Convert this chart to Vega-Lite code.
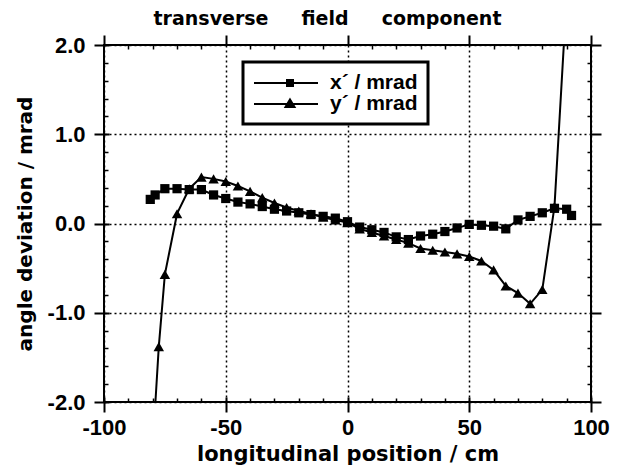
{
  "$schema": "https://vega.github.io/schema/vega-lite/v6.json",
  "width": 487,
  "height": 357,
  "autosize": {"type": "none"},
  "padding": {"left": 104, "top": 45, "right": 31, "bottom": 65},
  "background": "white",
  "config": {
    "view": {"stroke": "black", "strokeWidth": 2},
    "font": "Liberation Sans",
    "axis": {"domain": true, "domainOpacity": 0, "tickColor": "black", "labelColor": "black", "titleColor": "black", "labelFont": "Liberation Sans", "titleFont": "DejaVu Sans", "labelFlush": false, "labelOverlap": false}
  },
  "title": {"text": "transverse\u00a0\u00a0\u00a0\u00a0\u00a0field\u00a0\u00a0\u00a0\u00a0\u00a0component", "font": "DejaVu Sans", "fontSize": 19, "fontWeight": "bold", "color": "black", "anchor": "middle", "dx": -20, "offset": 5},
  "data": {"values": [
      {"x": -81, "y": 0.27, "series": "x´ / mrad"},
      {"x": -79, "y": 0.32, "series": "x´ / mrad"},
      {"x": -75, "y": 0.39, "series": "x´ / mrad"},
      {"x": -70, "y": 0.39, "series": "x´ / mrad"},
      {"x": -65, "y": 0.38, "series": "x´ / mrad"},
      {"x": -60, "y": 0.38, "series": "x´ / mrad"},
      {"x": -55, "y": 0.32, "series": "x´ / mrad"},
      {"x": -50, "y": 0.28, "series": "x´ / mrad"},
      {"x": -45, "y": 0.24, "series": "x´ / mrad"},
      {"x": -40, "y": 0.22, "series": "x´ / mrad"},
      {"x": -35, "y": 0.19, "series": "x´ / mrad"},
      {"x": -30, "y": 0.16, "series": "x´ / mrad"},
      {"x": -25, "y": 0.14, "series": "x´ / mrad"},
      {"x": -20, "y": 0.12, "series": "x´ / mrad"},
      {"x": -15, "y": 0.10, "series": "x´ / mrad"},
      {"x": -10, "y": 0.08, "series": "x´ / mrad"},
      {"x": -5, "y": 0.06, "series": "x´ / mrad"},
      {"x": 0, "y": 0.02, "series": "x´ / mrad"},
      {"x": 5, "y": -0.04, "series": "x´ / mrad"},
      {"x": 10, "y": -0.07, "series": "x´ / mrad"},
      {"x": 15, "y": -0.10, "series": "x´ / mrad"},
      {"x": 20, "y": -0.15, "series": "x´ / mrad"},
      {"x": 25, "y": -0.18, "series": "x´ / mrad"},
      {"x": 30, "y": -0.14, "series": "x´ / mrad"},
      {"x": 35, "y": -0.12, "series": "x´ / mrad"},
      {"x": 40, "y": -0.09, "series": "x´ / mrad"},
      {"x": 45, "y": -0.05, "series": "x´ / mrad"},
      {"x": 50, "y": -0.01, "series": "x´ / mrad"},
      {"x": 55, "y": -0.02, "series": "x´ / mrad"},
      {"x": 60, "y": -0.03, "series": "x´ / mrad"},
      {"x": 65, "y": -0.06, "series": "x´ / mrad"},
      {"x": 70, "y": 0.04, "series": "x´ / mrad"},
      {"x": 75, "y": 0.08, "series": "x´ / mrad"},
      {"x": 80, "y": 0.12, "series": "x´ / mrad"},
      {"x": 85, "y": 0.17, "series": "x´ / mrad"},
      {"x": 90, "y": 0.16, "series": "x´ / mrad"},
      {"x": 92, "y": 0.09, "series": "x´ / mrad"},
      {"x": -80, "y": -2.5, "series": "y´ / mrad"},
      {"x": -77.5, "y": -1.38, "series": "y´ / mrad"},
      {"x": -75, "y": -0.57, "series": "y´ / mrad"},
      {"x": -70, "y": 0.11, "series": "y´ / mrad"},
      {"x": -65, "y": 0.39, "series": "y´ / mrad"},
      {"x": -60, "y": 0.52, "series": "y´ / mrad"},
      {"x": -55, "y": 0.50, "series": "y´ / mrad"},
      {"x": -50, "y": 0.47, "series": "y´ / mrad"},
      {"x": -45, "y": 0.42, "series": "y´ / mrad"},
      {"x": -40, "y": 0.36, "series": "y´ / mrad"},
      {"x": -35, "y": 0.29, "series": "y´ / mrad"},
      {"x": -30, "y": 0.23, "series": "y´ / mrad"},
      {"x": -25, "y": 0.18, "series": "y´ / mrad"},
      {"x": -20, "y": 0.14, "series": "y´ / mrad"},
      {"x": -15, "y": 0.11, "series": "y´ / mrad"},
      {"x": -10, "y": 0.07, "series": "y´ / mrad"},
      {"x": -5, "y": 0.04, "series": "y´ / mrad"},
      {"x": 0, "y": 0.01, "series": "y´ / mrad"},
      {"x": 5, "y": -0.06, "series": "y´ / mrad"},
      {"x": 10, "y": -0.10, "series": "y´ / mrad"},
      {"x": 15, "y": -0.14, "series": "y´ / mrad"},
      {"x": 20, "y": -0.18, "series": "y´ / mrad"},
      {"x": 25, "y": -0.22, "series": "y´ / mrad"},
      {"x": 30, "y": -0.28, "series": "y´ / mrad"},
      {"x": 35, "y": -0.30, "series": "y´ / mrad"},
      {"x": 40, "y": -0.32, "series": "y´ / mrad"},
      {"x": 45, "y": -0.34, "series": "y´ / mrad"},
      {"x": 50, "y": -0.37, "series": "y´ / mrad"},
      {"x": 55, "y": -0.42, "series": "y´ / mrad"},
      {"x": 60, "y": -0.52, "series": "y´ / mrad"},
      {"x": 65, "y": -0.70, "series": "y´ / mrad"},
      {"x": 70, "y": -0.78, "series": "y´ / mrad"},
      {"x": 75, "y": -0.90, "series": "y´ / mrad"},
      {"x": 80, "y": -0.74, "series": "y´ / mrad"},
      {"x": 85, "y": 0.19, "series": "y´ / mrad"},
      {"x": 90, "y": 2.55, "series": "y´ / mrad"}
  ]},
  "layer": [
    {
      "mark": {"type": "line", "color": "black", "strokeWidth": 2, "clip": true},
      "encoding": {
        "detail": {"field": "series"},
        "x": {"field": "x", "type": "quantitative", "scale": {"domain": [-100, 100], "nice": false, "zero": false},
          "axis": {"orient": "bottom", "values": [-100, -50, 0, 50, 100], "offset": -5, "tickSize": 15, "tickWidth": 2,
            "grid": true, "gridDash": [2, 3], "gridColor": "black", "gridWidth": 1.5, "gridOpacity": 1,
            "labelFontSize": 22, "labelFontWeight": "bold", "labelPadding": 5,
            "labelExpr": "(datum.value < 0 ? '-' : '') + format(abs(datum.value), 'd')",
            "title": "longitudinal position  / cm", "titleFontSize": 21, "titleFontWeight": "bold", "titlePadding": 5}},
        "y": {"field": "y", "type": "quantitative", "scale": {"domain": [-2, 2], "nice": false, "zero": false},
          "axis": {"orient": "left", "values": [-2, -1, 0, 1, 2], "offset": -5, "tickSize": 15, "tickWidth": 2,
            "grid": true, "gridDash": [2, 3], "gridColor": "black", "gridWidth": 1.5, "gridOpacity": 1,
            "labelFontSize": 22, "labelFontWeight": "bold", "labelPadding": 9,
            "labelExpr": "(datum.value < 0 ? '-' : '') + format(abs(datum.value), '.1f')",
            "title": "angle deviation / mrad", "titleFontSize": 20, "titleFontWeight": "bold", "titlePadding": 12}}
      }
    },
    {
      "mark": {"type": "point", "filled": true, "color": "black", "opacity": 1, "clip": true},
      "encoding": {
        "x": {"field": "x", "type": "quantitative",
          "axis": {"orient": "bottom", "values": [-90, -80, -70, -60, -40, -30, -20, -10, 10, 20, 30, 40, 60, 70, 80, 90], "ticks": true, "tickSize": -4, "tickWidth": 1.5, "tickColor": "black", "tickOpacity": 1, "labels": false, "grid": false, "title": null}},
        "y": {"field": "y", "type": "quantitative",
          "axis": {"orient": "left", "values": [-1.8, -1.6, -1.4, -1.2, -0.8, -0.6, -0.4, -0.2, 0.2, 0.4, 0.6, 0.8, 1.2, 1.4, 1.6, 1.8], "ticks": true, "tickSize": -4, "tickWidth": 1.5, "tickColor": "black", "tickOpacity": 1, "labels": false, "grid": false, "title": null}},
        "shape": {"condition": {"test": "datum.series == 'x´ / mrad'", "value": "square"}, "value": "triangle-up"},
        "size": {"condition": {"test": "datum.series == 'x´ / mrad'", "value": 85}, "value": 110}
      }
    },
    {
      "mark": {"type": "point", "filled": true, "color": "black", "opacity": 0, "clip": true},
      "encoding": {
        "x": {"field": "x", "type": "quantitative",
          "axis": {"orient": "top", "values": [-100, -50, 0, 50, 100], "ticks": true, "tickSize": 10, "tickWidth": 2, "tickColor": "black", "tickOpacity": 1, "labels": false, "grid": false, "title": null}},
        "y": {"field": "y", "type": "quantitative",
          "axis": {"orient": "right", "values": [-2, -1, 0, 1, 2], "ticks": true, "tickSize": 10, "tickWidth": 2, "tickColor": "black", "tickOpacity": 1, "labels": false, "grid": false, "title": null}},
        "shape": {"field": "series", "type": "nominal",
          "scale": {"domain": ["x´ / mrad", "y´ / mrad"], "range": ["M-1,0H5.4M2.3,-0.3H2.9V0.3H2.3Z", "M-1,0H5.4M2.6,-0.45L3.05,0.3H2.15Z"]},
          "legend": {"orient": "none", "legendX": 139, "legendY": 17, "title": null,
            "strokeColor": "black", "padding": 10, "fillColor": "white",
            "symbolSize": 400, "symbolStrokeWidth": 2, "symbolStrokeColor": "black", "symbolFillColor": "black", "symbolOpacity": 1,
            "labelFont": "Liberation Sans", "labelFontSize": 21, "labelFontWeight": "bold", "labelColor": "black",
            "labelOffset": 55, "rowPadding": -4,
            "labelExpr": "datum.label + '\u00a0\u00a0\u00a0\u00a0\u00a0\u00a0\u00a0\u00a0\u00a0\u00a0'",
            "encoding": {
              "legend": {"strokeWidth": {"value": 3}},
              "symbols": {"fill": {"value": "black"}, "stroke": {"value": "black"}, "strokeWidth": {"value": 2}, "opacity": {"value": 1}}}}}
      }
    },
    {
      "mark": {"type": "line", "color": "black", "strokeWidth": 2, "opacity": 0, "clip": true},
      "encoding": {
        "detail": {"field": "series"},
        "x": {"field": "x", "type": "quantitative",
          "axis": {"orient": "top", "values": [-90, -80, -70, -60, -40, -30, -20, -10, 10, 20, 30, 40, 60, 70, 80, 90], "ticks": true, "tickSize": -4, "tickWidth": 1.5, "tickColor": "black", "tickOpacity": 1, "labels": false, "grid": false, "title": null}},
        "y": {"field": "y", "type": "quantitative",
          "axis": {"orient": "right", "values": [-1.8, -1.6, -1.4, -1.2, -0.8, -0.6, -0.4, -0.2, 0.2, 0.4, 0.6, 0.8, 1.2, 1.4, 1.6, 1.8], "ticks": true, "tickSize": -4, "tickWidth": 1.5, "tickColor": "black", "tickOpacity": 1, "labels": false, "grid": false, "title": null}}
      }
    }
  ],
  "resolve": {"axis": {"x": "independent", "y": "independent"}}
}
